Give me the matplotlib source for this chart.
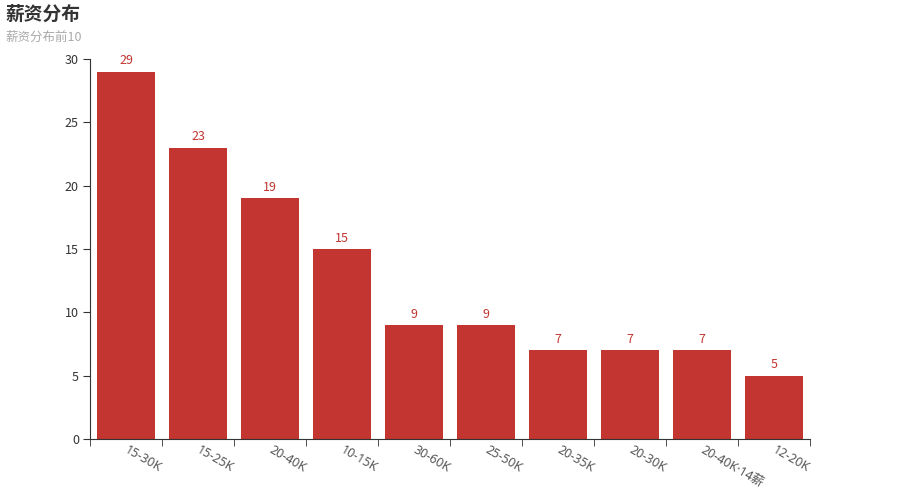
import matplotlib
matplotlib.use("Agg")
import matplotlib.pyplot as plt
import matplotlib.transforms as mtransforms

plt.rcParams['font.family'] = ['Noto Sans CJK SC', 'DejaVu Sans']

categories = ["15-30K", "15-25K", "20-40K", "10-15K", "30-60K", "25-50K",
              "20-35K", "20-30K", "20-40K·14薪", "12-20K"]
values = [29, 23, 19, 15, 9, 9, 7, 7, 7, 5]
title = "薪资分布"
subtitle = "薪资分布前10"
yticks = [0, 5, 10, 15, 20, 25, 30]

bar_color = "#c23531"
axis_color = "#333333"

fig = plt.figure(figsize=(9, 5), dpi=100)
ax = fig.add_axes([0.1, 0.122, 0.8, 0.76])

x = list(range(len(categories)))
ax.bar(x, values, width=0.8, color=bar_color, zorder=2)
for xi, v in zip(x, values):
    ax.annotate(str(v), (xi, v), xytext=(0, 3), textcoords="offset points",
                ha="center", va="bottom", color=bar_color, fontsize=9)

ax.set_xlim(-0.5, len(categories) - 0.5)
ax.set_ylim(0, 30)
ax.set_yticks(yticks)

ax.spines['top'].set_visible(False)
ax.spines['right'].set_visible(False)
ax.spines['left'].set_color(axis_color)
ax.spines['bottom'].set_color(axis_color)

ax.tick_params(axis='y', length=5, color=axis_color, labelcolor=axis_color,
               labelsize=9, pad=3)

# boundary ticks
ax.set_xticks([i - 0.5 for i in range(len(categories) + 1)], minor=True)
ax.tick_params(axis='x', which='minor', length=5, color=axis_color)
ax.set_xticks(x)
ax.set_xticklabels([])
ax.tick_params(axis='x', which='major', length=0)

offset = mtransforms.ScaledTranslation(0, -7 / 72, fig.dpi_scale_trans)
trans = mtransforms.blended_transform_factory(ax.transData, ax.transAxes) + offset
for xi, lab in zip(x, categories):
    ax.text(xi, 0, lab, transform=trans, rotation=-30, rotation_mode="anchor",
            ha="left", va="center", fontsize=9, color="#555555",
            family=['Noto Sans', 'Noto Sans CJK SC'])

fig.text(5 / 900, 1 - 14 / 500, title, fontsize=13.5, fontweight="bold",
         color="#333333", ha="left", va="center")
fig.text(5 / 900, 1 - 37 / 500, subtitle, fontsize=9, color="#aaaaaa",
         ha="left", va="center")

fig.savefig("out.png", dpi=100)
